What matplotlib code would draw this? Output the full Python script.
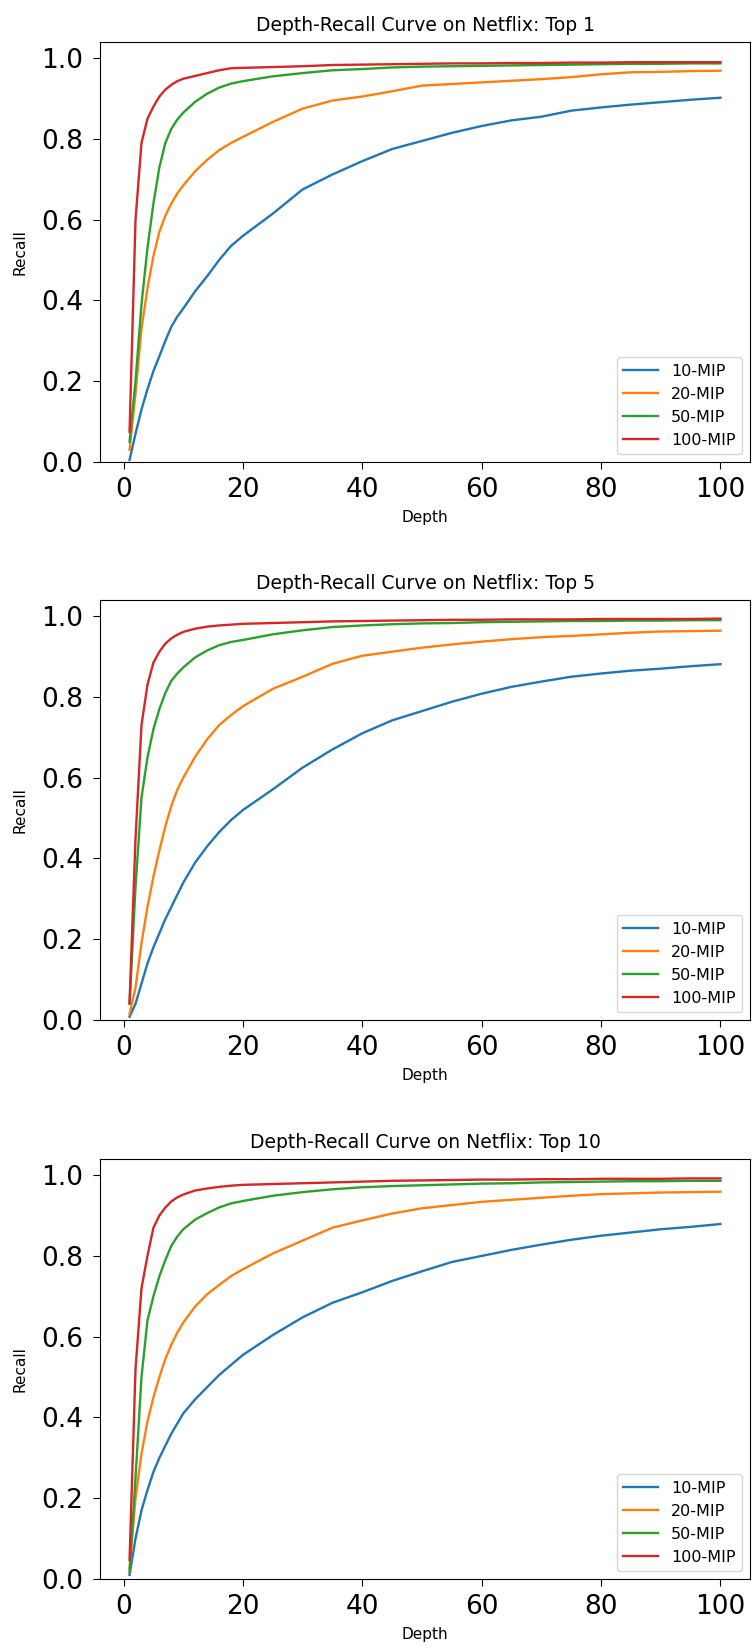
import numpy as np
import matplotlib
matplotlib.use("Agg")
import matplotlib.pyplot as plt

depth = [1, 2, 3, 4, 5, 6, 7, 8, 9, 10, 12, 14, 16, 18, 20, 25, 30, 35, 40, 45, 50,
         55, 60, 65, 70, 75, 80, 85, 90, 95, 100]

labels = ["10-MIP", "20-MIP", "50-MIP", "100-MIP"]
titles = ["Depth-Recall Curve on Netflix: Top 1",
          "Depth-Recall Curve on Netflix: Top 5",
          "Depth-Recall Curve on Netflix: Top 10"]

# Top 1
top1_mip10 = [0.005, 0.07, 0.13, 0.18, 0.225, 0.262, 0.30, 0.335, 0.36, 0.38, 0.423, 0.46, 0.50, 0.535, 0.56,
              0.615, 0.675, 0.712, 0.745, 0.775, 0.795, 0.815, 0.832, 0.846, 0.855, 0.870, 0.878, 0.885, 0.891, 0.897, 0.902]
top1_mip20 = [0.03, 0.17, 0.33, 0.43, 0.51, 0.57, 0.61, 0.64, 0.665, 0.685, 0.72, 0.748, 0.772, 0.79, 0.805,
              0.842, 0.875, 0.895, 0.905, 0.918, 0.932, 0.936, 0.940, 0.944, 0.948, 0.953, 0.960, 0.965, 0.966, 0.968, 0.969]
top1_mip50 = [0.05, 0.20, 0.39, 0.53, 0.64, 0.73, 0.79, 0.825, 0.848, 0.865, 0.892, 0.912, 0.927, 0.937, 0.943,
              0.955, 0.963, 0.970, 0.973, 0.977, 0.979, 0.980, 0.981, 0.982, 0.983, 0.984, 0.985, 0.986, 0.986, 0.987, 0.987]
top1_mip100 = [0.075, 0.60, 0.79, 0.85, 0.88, 0.905, 0.922, 0.934, 0.943, 0.949, 0.956, 0.963, 0.970, 0.975, 0.976,
               0.978, 0.980, 0.983, 0.984, 0.985, 0.986, 0.987, 0.987, 0.988, 0.988, 0.989, 0.989, 0.990, 0.990, 0.990, 0.990]

# Top 5
top5_mip10 = [0.008, 0.04, 0.09, 0.14, 0.18, 0.215, 0.25, 0.28, 0.31, 0.34, 0.39, 0.43, 0.465, 0.495, 0.52,
              0.571, 0.625, 0.67, 0.71, 0.742, 0.765, 0.788, 0.808, 0.825, 0.838, 0.850, 0.858, 0.865, 0.870, 0.876, 0.881]
top5_mip20 = [0.015, 0.08, 0.19, 0.28, 0.355, 0.42, 0.48, 0.53, 0.57, 0.60, 0.652, 0.695, 0.73, 0.755, 0.777,
              0.82, 0.85, 0.882, 0.902, 0.912, 0.922, 0.930, 0.937, 0.943, 0.948, 0.951, 0.955, 0.959, 0.962, 0.963, 0.964]
top5_mip50 = [0.04, 0.33, 0.55, 0.65, 0.72, 0.77, 0.81, 0.84, 0.858, 0.873, 0.898, 0.915, 0.928, 0.936, 0.941,
              0.955, 0.965, 0.973, 0.977, 0.980, 0.982, 0.983, 0.985, 0.986, 0.987, 0.988, 0.988, 0.989, 0.989, 0.990, 0.990]
top5_mip100 = [0.042, 0.45, 0.73, 0.83, 0.885, 0.912, 0.932, 0.945, 0.954, 0.961, 0.969, 0.974, 0.977, 0.979, 0.981,
               0.983, 0.985, 0.987, 0.988, 0.989, 0.990, 0.991, 0.991, 0.992, 0.992, 0.992, 0.993, 0.993, 0.993, 0.993, 0.994]

# Top 10
top10_mip10 = [0.01, 0.10, 0.17, 0.22, 0.265, 0.30, 0.33, 0.36, 0.385, 0.41, 0.445, 0.475, 0.505, 0.53, 0.555,
               0.604, 0.648, 0.684, 0.71, 0.738, 0.762, 0.785, 0.800, 0.815, 0.828, 0.84, 0.850, 0.858, 0.866, 0.872, 0.879]
top10_mip20 = [0.025, 0.20, 0.31, 0.39, 0.45, 0.50, 0.545, 0.58, 0.61, 0.635, 0.675, 0.705, 0.728, 0.75, 0.767,
               0.806, 0.838, 0.87, 0.888, 0.905, 0.918, 0.926, 0.934, 0.939, 0.944, 0.949, 0.953, 0.955, 0.957, 0.958, 0.959]
top10_mip50 = [0.018, 0.25, 0.50, 0.64, 0.70, 0.75, 0.79, 0.825, 0.848, 0.866, 0.89, 0.906, 0.92, 0.930, 0.936,
               0.949, 0.958, 0.965, 0.970, 0.973, 0.975, 0.977, 0.979, 0.980, 0.982, 0.983, 0.984, 0.985, 0.985, 0.986, 0.986]
top10_mip100 = [0.047, 0.52, 0.72, 0.80, 0.87, 0.90, 0.92, 0.935, 0.945, 0.952, 0.962, 0.967, 0.971, 0.974, 0.976,
                0.978, 0.980, 0.982, 0.984, 0.986, 0.987, 0.988, 0.989, 0.989, 0.990, 0.990, 0.991, 0.991, 0.991, 0.992, 0.992]

panels = [
    [top1_mip10, top1_mip20, top1_mip50, top1_mip100],
    [top5_mip10, top5_mip20, top5_mip50, top5_mip100],
    [top10_mip10, top10_mip20, top10_mip50, top10_mip100],
]

W, H = 752, 1651
fig = plt.figure(figsize=(W / 100, H / 100), dpi=100)

# axes top/bottom in pixels, measured from the top
boxes = [(42, 462), (600, 1020), (1159, 1579)]

for k, curves in enumerate(panels):
    top, bot = boxes[k]
    ax = fig.add_axes([100 / W, (H - bot) / H, 650 / W, (bot - top) / H])
    for lab, vals in zip(labels, curves):
        ax.plot(depth, vals, lw=1.7, label=lab)
    ax.set_ylim(0, 1.04)
    ax.set_xticks([0, 20, 40, 60, 80, 100])
    ax.set_yticks([0.0, 0.2, 0.4, 0.6, 0.8, 1.0])
    ax.tick_params(labelsize=19, length=5, pad=6)
    ax.tick_params(axis='y', pad=7)
    ax.set_title(titles[k], fontsize=13.5, pad=8)
    ax.set_xlabel("Depth", fontsize=11)
    ax.set_ylabel("Recall", fontsize=11)
    ax.xaxis.set_label_coords(0.5, -0.115)
    ax.yaxis.set_label_coords(-0.111, 0.5)
    ax.legend(loc='lower right', fontsize=11.5, handlelength=2.2)

fig.savefig("out.png", dpi=100)
